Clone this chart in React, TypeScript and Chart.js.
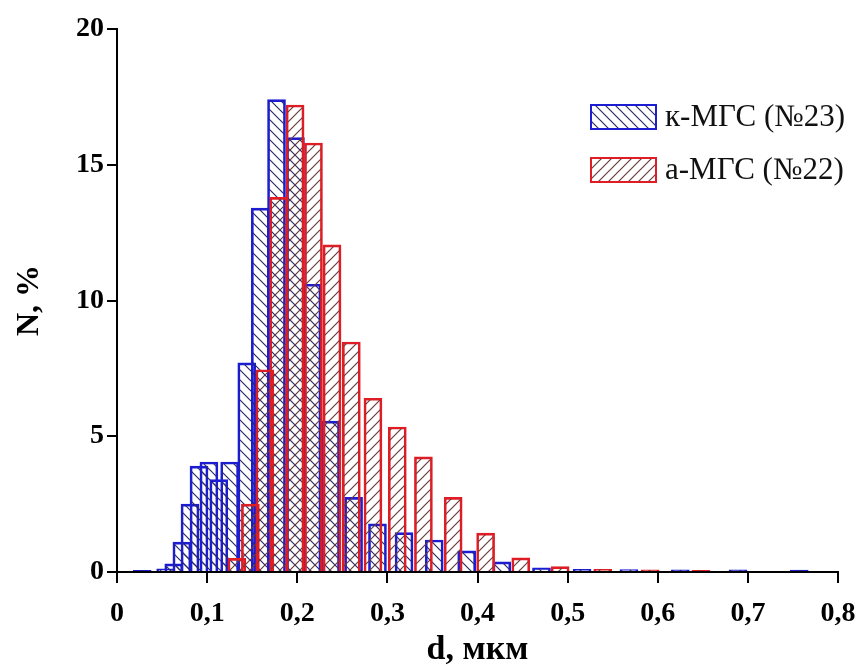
import React, { useEffect, useRef } from 'react';
import { Chart, registerables } from 'chart.js';
Chart.register(...registerables);

const FONT = "'Liberation Serif', 'Times New Roman', serif";

const seriesNames = ['к-МГС (№23)', 'а-МГС (№22)'];

const blueD = [0.028, 0.054, 0.063, 0.072, 0.081, 0.091, 0.102, 0.113, 0.125, 0.144, 0.159, 0.177, 0.198, 0.2164, 0.237, 0.2625, 0.289, 0.3185, 0.352, 0.388, 0.427, 0.471, 0.516, 0.568, 0.625, 0.689, 0.757];
const blueN = [0.06, 0.12, 0.3, 1.1, 2.5, 3.9, 4.05, 3.4, 4.05, 7.7, 13.4, 17.4, 16.0, 10.6, 5.56, 2.75, 1.77, 1.45, 1.18, 0.78, 0.37, 0.15, 0.1, 0.09, 0.08, 0.08, 0.07];

const redD = [0.133, 0.148, 0.164, 0.1794, 0.1976, 0.218, 0.2386, 0.26, 0.284, 0.311, 0.34, 0.373, 0.409, 0.448, 0.4917, 0.539, 0.5916, 0.648];
const redN = [0.5, 2.5, 7.45, 13.8, 17.2, 15.8, 12.05, 8.47, 6.4, 5.34, 4.24, 2.75, 1.43, 0.52, 0.2, 0.1, 0.08, 0.06];

const xTickLabels = ['0', '0,1', '0,2', '0,3', '0,4', '0,5', '0,6', '0,7', '0,8'];
const yTickLabels = ['0', '5', '10', '15', '20'];

const BLUE = '#1c1cd2';
const RED = '#e01c24';

function makeHatch(dir: 'back' | 'fwd', color: string): CanvasPattern | string {
  const s = 10;
  const c = document.createElement('canvas');
  c.width = s;
  c.height = s;
  const g = c.getContext('2d');
  if (!g) return 'transparent';
  g.strokeStyle = color;
  g.lineWidth = 1.2;
  g.beginPath();
  if (dir === 'back') {
    g.moveTo(-2, -2); g.lineTo(s + 2, s + 2);
    g.moveTo(-s - 2, -2); g.lineTo(2, s + 2);
    g.moveTo(s - 2, -2); g.lineTo(2 * s + 2, s + 2);
  } else {
    g.moveTo(-2, s + 2); g.lineTo(s + 2, -2);
    g.moveTo(-s - 2, s + 2); g.lineTo(2, -2);
    g.moveTo(s - 2, s + 2); g.lineTo(2 * s + 2, -2);
  }
  g.stroke();
  const p = g.createPattern(c, 'repeat');
  return p || 'transparent';
}

export default function App() {
  const ref = useRef<HTMLCanvasElement | null>(null);

  useEffect(() => {
    document.body.style.margin = '0';
    const canvas = ref.current;
    if (!canvas) return;
    const blueHatch = makeHatch('back', '#2a2a66');
    const redHatch = makeHatch('fwd', '#6a3c3c');

    const legendPlugin = {
      id: 'hatchLegend',
      afterDraw(chart: any) {
        const ctx = chart.ctx;
        const rows = [
          { y: 117, fill: blueHatch, stroke: BLUE, text: seriesNames[0] },
          { y: 170, fill: redHatch, stroke: RED, text: seriesNames[1] },
        ];
        ctx.save();
        rows.forEach((r) => {
          ctx.fillStyle = r.fill as any;
          ctx.fillRect(591, r.y - 12, 65, 24);
          ctx.strokeStyle = r.stroke;
          ctx.lineWidth = 2;
          ctx.strokeRect(591, r.y - 12, 65, 24);
          ctx.fillStyle = '#111';
          ctx.font = `31px ${FONT}`;
          ctx.textAlign = 'left';
          ctx.textBaseline = 'middle';
          ctx.fillText(r.text, 665, r.y + 1);
        });
        ctx.restore();
      },
    };

    const chart = new Chart(canvas, {
      type: 'bar',
      data: {
        datasets: [
          {
            label: seriesNames[0],
            data: blueD.map((d, i) => ({ x: d, y: blueN[i] })),
            backgroundColor: blueHatch as any,
            borderColor: BLUE,
            borderWidth: 2,
            barThickness: 18,
            grouped: false,
            order: 2,
          } as any,
          {
            label: seriesNames[1],
            data: redD.map((d, i) => ({ x: d, y: redN[i] })),
            backgroundColor: redHatch as any,
            borderColor: RED,
            borderWidth: 2,
            barThickness: 18,
            grouped: false,
            order: 1,
          } as any,
        ],
      },
      options: {
        responsive: false,
        animation: false,
        devicePixelRatio: 1,
        layout: { padding: { top: 29, right: 23, bottom: 0, left: 0 } },
        plugins: { legend: { display: false }, tooltip: { enabled: false } },
        scales: {
          x: {
            type: 'linear',
            min: 0,
            max: 0.8,
            offset: false,
            grid: { offset: false, drawOnChartArea: false, color: '#000', lineWidth: 2, tickLength: 11 },
            border: { color: '#000', width: 2 },
            ticks: {
              stepSize: 0.1,
              color: '#000',
              padding: 14,
              maxRotation: 0,
              autoSkip: false,
              font: { family: FONT, size: 28, weight: 'bold' },
              callback: (v: any) => xTickLabels[Math.round(Number(v) * 10)] ?? '',
            },
            title: {
              display: true,
              text: 'd, мкм',
              color: '#000',
              font: { family: FONT, size: 34, weight: 'bold', lineHeight: 1 },
              padding: { top: 0, bottom: 2 },
            },
            afterFit: (s: any) => { s.height = 97; s.paddingLeft = 0; s.paddingRight = 0; },
          } as any,
          y: {
            type: 'linear',
            min: 0,
            max: 20,
            grid: { drawOnChartArea: false, color: '#000', lineWidth: 2, tickLength: 10 },
            border: { color: '#000', width: 2 },
            ticks: {
              stepSize: 5,
              color: '#000',
              padding: 3,
              font: { family: FONT, size: 28, weight: 'bold' },
              callback: (v: any) => yTickLabels[Math.round(Number(v) / 5)] ?? '',
            },
            title: {
              display: true,
              text: 'N, %',
              color: '#000',
              font: { family: FONT, size: 32, weight: 'bold', lineHeight: 1 },
              padding: { top: 14, bottom: 0 },
            },
            afterFit: (s: any) => { s.width = 117; s.paddingTop = 0; s.paddingBottom = 0; },
          } as any,
        },
      },
      plugins: [legendPlugin],
    });
    return () => chart.destroy();
  }, []);

  return (
    <div style={{ position: 'absolute', left: 0, top: 0, width: 861, height: 669, background: '#fff' }}>
      <canvas ref={ref} width={861} height={669} style={{ display: 'block', width: 861, height: 669 }} />
    </div>
  );
}
